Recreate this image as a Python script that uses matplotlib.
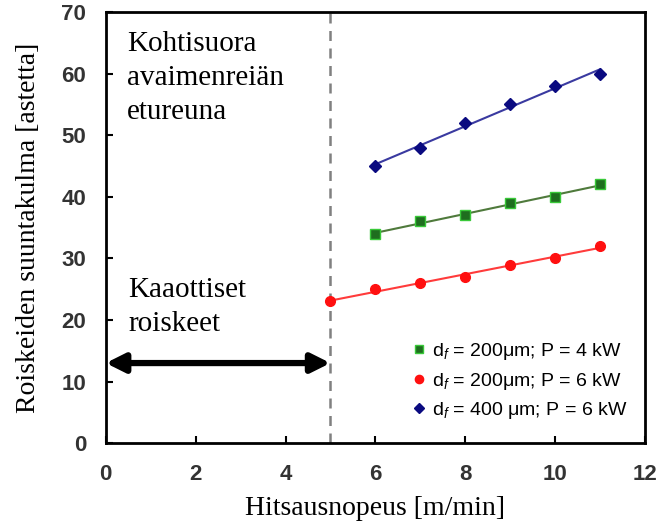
import numpy as np
import matplotlib.pyplot as plt

# welding speed [m/min] and spatter angle [deg] per series
x_green = [6, 7, 8, 9, 10, 11]
y_green = [34, 36, 37, 39, 40, 42]
x_red = [5, 6, 7, 8, 9, 10, 11]
y_red = [23, 25, 26, 27, 29, 30, 32]
x_blue = [6, 7, 8, 9, 10, 11]
y_blue = [45, 48, 52, 55, 58, 60]

labels = [r'd$_f$ = 200μm; P = 4 kW',
          r'd$_f$ = 200μm; P = 6 kW',
          r'd$_f$ = 400 μm; P = 6 kW']

limit_speed = 5
arrow_y = 13

plt.rcParams['mathtext.fontset'] = 'custom'
plt.rcParams['mathtext.rm'] = 'Liberation Sans'
plt.rcParams['mathtext.it'] = 'Liberation Sans:italic'

fig = plt.figure(figsize=(6.65, 5.25), dpi=100)
ax = fig.add_axes([0.159, 0.156, 0.811, 0.821])

series = [
    (x_green, y_green, 's', '#1f6e1f', '#39c939', '#4f7a3c', 7),
    (x_red, y_red, 'o', '#ff1010', '#ff1010', '#ff3b3b', 7),
    (x_blue, y_blue, 'D', '#0a0a80', '#0a0a80', '#3a3aa0', 6),
]
handles = []
for (xs, ys, m, fc, ec, lc, ms), lab in zip(series, labels):
    k, b = np.polyfit(xs, ys, 1)
    xx = np.array([xs[0], xs[-1]])
    ax.plot(xx, k * xx + b, color=lc, lw=1.5, zorder=2)
    h, = ax.plot(xs, ys, ls='none', marker=m, ms=ms, mfc=fc, mec=ec,
                 mew=1, zorder=3, label=lab)
    handles.append(h)

ax.axvline(limit_speed, color='#808080', ls=(0, (4, 3)), lw=1.8, zorder=1)
ax.annotate('', xy=(0, arrow_y), xytext=(limit_speed, arrow_y),
            arrowprops=dict(arrowstyle='<|-|>', color='black', lw=4.5,
                            mutation_scale=28, shrinkA=0, shrinkB=0))

ax.text(0.47, 67.0, 'Kohtisuora\navaimenreiän\netureuna', family='Liberation Serif',
        fontsize=21, va='top', ha='left', linespacing=1.4)
ax.text(0.5, 27.0, 'Kaaottiset\nroiskeet', family='Liberation Serif',
        fontsize=21, va='top', ha='left', linespacing=1.4)

ax.set_xlim(0, 12)
ax.set_ylim(0, 70)
ax.set_xticks(range(0, 13, 2))
ax.set_yticks(range(0, 71, 10))
ax.tick_params(direction='in', length=5, width=1.5, top=False, right=False,
               labelsize=16, labelcolor='#333333')
ax.tick_params(axis='y', pad=14)
ax.tick_params(axis='x', pad=15)
for t in ax.get_xticklabels() + ax.get_yticklabels():
    t.set_family('Liberation Sans')
    t.set_fontweight('bold')
for s in ax.spines.values():
    s.set_linewidth(2)

ax.set_xlabel('Hitsausnopeus [m/min]', family='Liberation Serif', fontsize=20)
ax.set_ylabel('Roiskeiden suuntakulma [astetta]', family='Liberation Serif', fontsize=20)
ax.xaxis.set_label_coords(0.5, -0.122)
ax.yaxis.set_label_coords(-0.12, 0.5)

ax.legend(handles=handles, loc='lower right', frameon=False,
          prop={'family': 'Liberation Sans', 'size': 14},
          handletextpad=0.2, handlelength=1.0, labelspacing=0.45,
          bbox_to_anchor=(1.0, 0.01), markerscale=0.85)

fig.savefig('out.png', dpi=100)
